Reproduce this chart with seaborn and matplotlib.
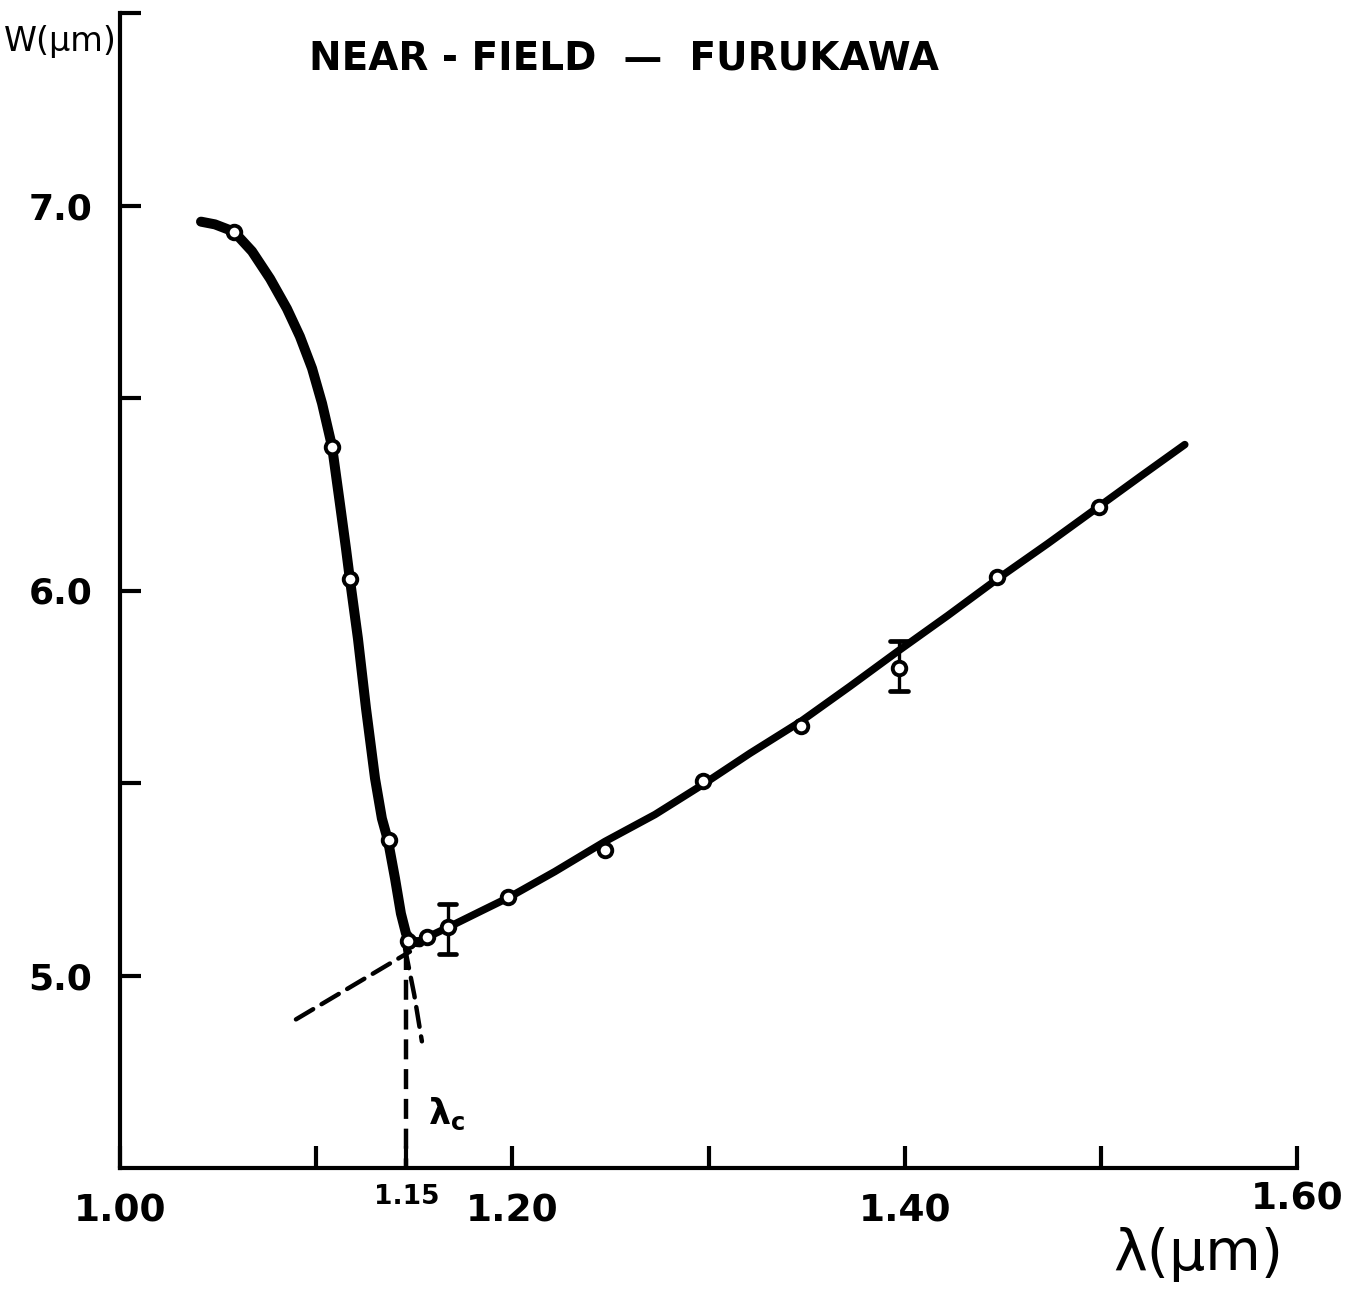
import numpy as np
import pandas as pd
import matplotlib
matplotlib.use("Agg")
import matplotlib.pyplot as plt
import seaborn as sns

# Measured spot width W versus wavelength
lam_pts = [1.058, 1.108, 1.117, 1.137, 1.147, 1.1565, 1.167, 1.198, 1.247,
           1.297, 1.347, 1.397, 1.447, 1.499]
w_pts = [6.932, 6.374, 6.029, 5.351, 5.090, 5.101, 5.125, 5.203, 5.325,
         5.504, 5.649, 5.800, 6.034, 6.218]

# Error bars on two of the points
err_lam = [1.167, 1.397]
err_lo = [5.057, 5.740]
err_hi = [5.185, 5.870]

# Hand-drawn fit below cutoff (steep branch)
steep_lam = [1.0413, 1.0484, 1.0581, 1.0673, 1.0765, 1.0851, 1.0917, 1.0979,
             1.1030, 1.1081, 1.1121, 1.1152, 1.1172, 1.1213, 1.1254, 1.1300,
             1.1335, 1.1366, 1.1402, 1.1432, 1.1458, 1.1488, 1.1529]
steep_w = [6.958, 6.951, 6.932, 6.881, 6.810, 6.732, 6.660, 6.577,
           6.486, 6.374, 6.226, 6.109, 6.029, 5.875, 5.694, 5.512,
           5.408, 5.351, 5.252, 5.161, 5.109, 5.088, 5.086]

# Hand-drawn fit above cutoff (single-mode branch)
single_lam = [1.1488, 1.1565, 1.1672, 1.1835, 1.1983, 1.2217, 1.2472, 1.2727,
              1.2971, 1.3211, 1.3471, 1.3721, 1.3970, 1.4220, 1.4470, 1.4730,
              1.4990, 1.5209, 1.5428]
single_w = [5.081, 5.099, 5.125, 5.166, 5.203, 5.270, 5.348, 5.418,
            5.496, 5.577, 5.660, 5.751, 5.844, 5.935, 6.029, 6.122,
            6.218, 6.299, 6.379]

# Dashed extrapolations meeting at the cutoff
ext_lin_lam = [1.0897, 1.1478]
ext_lin_w = [4.886, 5.062]
ext_steep_lam = [1.1453, 1.1500, 1.1539]
ext_steep_w = [5.070, 4.950, 4.829]
lambda_c = 1.146
w_c = 5.066

x_ticks = [1.00, 1.10, lambda_c, 1.20, 1.30, 1.40, 1.50, 1.60]
x_labels = ["1.00", "", f"{lambda_c:.2f}", "1.20", "", "1.40", "", "1.60"]
y_ticks = [5.0, 5.5, 6.0, 6.5, 7.0, 7.5]
y_labels = ["5.0", "", "6.0", "", "7.0", ""]

sns.set_style("ticks")
plt.rcParams["font.family"] = ["DejaVu Sans"]
plt.rcParams["text.color"] = "black"
plt.rcParams["axes.edgecolor"] = "black"
plt.rcParams["xtick.color"] = "black"
plt.rcParams["ytick.color"] = "black"
plt.rcParams["mathtext.fontset"] = "dejavusans"

fig = plt.figure(figsize=(13.60, 12.99), dpi=100)
ax = fig.add_axes([120 / 1360, 131 / 1299, 1177 / 1360, 1155 / 1299])

pts = pd.DataFrame({"lam": lam_pts, "w": w_pts})
steep = pd.DataFrame({"lam": steep_lam, "w": steep_w})
single = pd.DataFrame({"lam": single_lam, "w": single_w})

sns.lineplot(data=steep, x="lam", y="w", sort=False, estimator=None, ax=ax,
             color="black", lw=7.2, solid_capstyle="round", solid_joinstyle="round")
sns.lineplot(data=single, x="lam", y="w", sort=False, estimator=None, ax=ax,
             color="black", lw=5.4, solid_capstyle="round", solid_joinstyle="round")

dash = (0, (4.5, 2.2))
ax.plot(ext_lin_lam, ext_lin_w, color="black", lw=3.2, ls=dash, dash_capstyle="round")
ax.plot(ext_steep_lam, ext_steep_w, color="black", lw=3.2, ls=dash, dash_capstyle="round")
ax.plot([lambda_c, lambda_c], [w_c, 4.5], color="black", lw=3.2, ls=dash,
        dash_capstyle="butt")

for xl, lo, hi in zip(err_lam, err_lo, err_hi):
    ax.plot([xl, xl], [lo, hi], color="black", lw=2.4)
    ax.plot([xl - 0.0045, xl + 0.0045], [lo, lo], color="black", lw=3.4)
    ax.plot([xl - 0.0045, xl + 0.0045], [hi, hi], color="black", lw=3.4)

sns.scatterplot(data=pts, x="lam", y="w", ax=ax, s=95, marker="o",
                facecolor="white", edgecolor="black", linewidth=2.8, zorder=5)

ax.set_xlim(1.0, 1.6)
ax.set_ylim(4.5, 7.5)
ax.set_xlabel("")
ax.set_ylabel("")

for s in ("top", "right"):
    ax.spines[s].set_visible(False)
for s in ("left", "bottom"):
    ax.spines[s].set_linewidth(3.0)
    ax.spines[s].set_capstyle("projecting")

ax.set_xticks(x_ticks)
ax.set_xticklabels(x_labels)
ax.set_yticks(y_ticks)
ax.set_yticklabels(y_labels)
ax.tick_params(axis="x", direction="in", length=16, width=3.0, pad=18,
               labelsize=27)
ax.tick_params(axis="y", direction="in", length=15, width=3.0, pad=20,
               labelsize=26)
for lab in ax.get_xticklabels() + ax.get_yticklabels():
    lab.set_fontweight("bold")

# The cutoff tick label is set smaller and higher than the rest
xt = ax.get_xticklabels()
xt[2].set_fontsize(19)
xt[2].set_y(0.008)
xt[7].set_y(0.01)

ax.text(lambda_c + 0.011, 4.64, r"$\mathbf{\lambda_c}$", fontsize=25, ha="left",
        va="center")

fig.text(624 / 1360, 1 - 58 / 1299, "NEAR - FIELD  \u2014  FURUKAWA",
         ha="center", va="center", fontsize=28, fontweight="bold")
fig.text(4 / 1360, 1 - 42 / 1299, "W(\u03bcm)", ha="left", va="center",
         fontsize=24)
fig.text(1198 / 1360, 1 - 1255 / 1299, "\u03bb(\u03bcm)", ha="center",
         va="center", fontsize=41)

fig.savefig("out.png", dpi=100, facecolor="white")
